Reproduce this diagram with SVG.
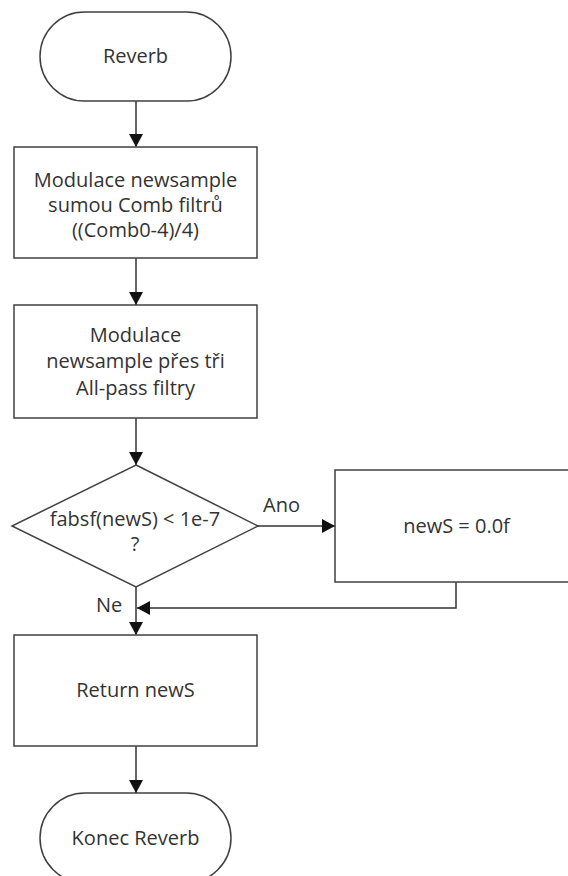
<svg xmlns="http://www.w3.org/2000/svg" width="568" height="876" viewBox="0 0 568 876">
<style>
.s{fill:#fff;stroke:#404040;stroke-width:1.5}
.t{font-family:"Open Sans","Noto Sans",sans-serif;font-size:20px;fill:#333;text-anchor:middle}
.l{font-family:"Open Sans","Noto Sans",sans-serif;font-size:20px;fill:#333}
.c{fill:none;stroke:#333;stroke-width:1.5}
</style>
<defs>
<marker id="ah" markerUnits="userSpaceOnUse" markerWidth="14" markerHeight="14" refX="13" refY="7" orient="auto">
<path d="M0,0 L13,7 L0,14 z" fill="#111"/>
</marker>
</defs>
<rect width="568" height="876" fill="#fff"/>
<g id="connectors">
<line class="c" x1="136" y1="101" x2="136" y2="147" marker-end="url(#ah)"/>
<line class="c" x1="136" y1="258" x2="136" y2="305" marker-end="url(#ah)"/>
<line class="c" x1="136" y1="418" x2="136" y2="465" marker-end="url(#ah)"/>
<line class="c" x1="258" y1="526" x2="335" y2="526" marker-end="url(#ah)"/>
<polyline class="c" points="456,582 456,608 137,608" marker-end="url(#ah)"/>
<line class="c" x1="136" y1="587" x2="136" y2="635" marker-end="url(#ah)"/>
<line class="c" x1="136" y1="746" x2="136" y2="793" marker-end="url(#ah)"/>
<text class="l" x="263" y="512">Ano</text>
<text class="l" x="96" y="612">Ne</text>
</g>
<g id="start">
<rect class="s" x="40" y="12" width="191" height="89" rx="44.5"/>
<text class="t" x="135.5" y="63">Reverb</text>
</g>
<g id="comb">
<rect class="s" x="14" y="147" width="243" height="111"/>
<text class="t" x="135.5" y="187">Modulace newsample</text>
<text class="t" x="135.5" y="212">sumou Comb filtrů</text>
<text class="t" x="135.5" y="237">((Comb0-4)/4)</text>
</g>
<g id="allpass">
<rect class="s" x="14" y="305" width="243" height="113"/>
<text class="t" x="135.5" y="342">Modulace</text>
<text class="t" x="135.5" y="368">newsample přes tři</text>
<text class="t" x="135.5" y="395">All-pass filtry</text>
</g>
<g id="decision">
<polygon class="s" points="136,465 258,526 136,587 12,526"/>
<text class="t" x="135" y="526">fabsf(newS) &lt; 1e-7</text>
<text class="t" x="135" y="551">?</text>
</g>
<g id="zero">
<rect class="s" x="335" y="470" width="243" height="112"/>
<text class="t" x="456.5" y="533">newS = 0.0f</text>
</g>
<g id="return">
<rect class="s" x="14" y="635" width="243" height="111"/>
<text class="t" x="135.5" y="697">Return newS</text>
</g>
<g id="end">
<rect class="s" x="40" y="793" width="191" height="90" rx="45"/>
<text class="t" x="135.5" y="845">Konec Reverb</text>
</g>
</svg>
